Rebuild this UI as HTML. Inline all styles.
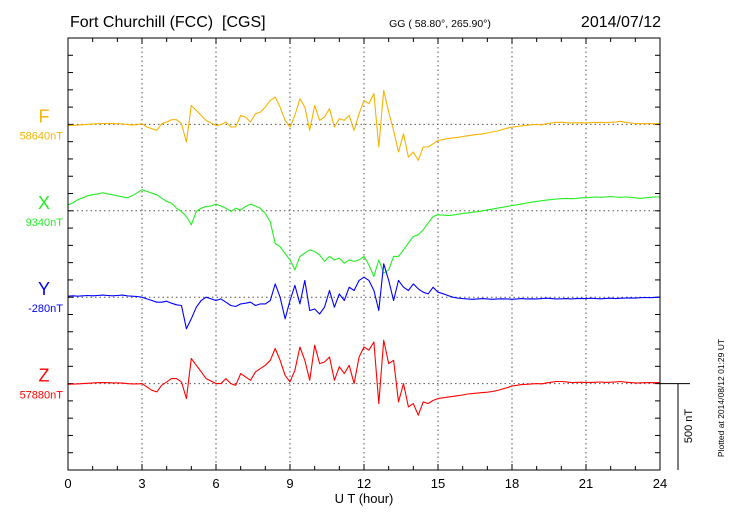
<!DOCTYPE html>
<html><head><meta charset="utf-8"><style>
body{margin:0;background:#fff;width:730px;height:520px;overflow:hidden}
svg{display:block;font-family:"Liberation Sans",Arial,sans-serif}
</style></head><body>
<svg id="c" width="730" height="520"></svg>
<script>
const hours=[0,3,6,9,12,15,18,21,24];
const components=["F","X","Y","Z"];
const baseLabels=["58640nT","9340nT","-280nT","57880nT"];
const colors=["#f5b400","#22ee22","#0000ff","#ff0000"];
const step=0.2;
const fVals=[-6,-5,-4,-2,0,2,4,5,6,5,4,3,0,-3,-2,
4,-15,-25,-35,4,14,27,27,4,-102,110,81,52,23,8,-6,-2,14,-15,-15,52,42,14,62,71,100,139,158,100,23,-15,52,149,100,-35,110,23,42,91,-15,33,23,52,-35,62,139,120,178,-131,197,71,-35,-160,-54,-189,-160,-208,-131,-131,-112,-93,
-88,-82,-78,-75,-70,-66,-62,-58,-55,-50,-44,-38,-30,-22,-16,-12,-8,-5,-2,0,-3,4,8,12,12,10,8,9,10,9,10,11,12,10,12,14,18,12,8,5,4,4,5,4,6];
const xVals=[35,46,64,75,87,93,98,104,98,93,87,81,75,87,104,
122,112,102,93,73,54,44,15,-4,-33,-81,-4,15,25,27,39,27,15,-4,15,4,25,39,27,15,-15,-64,-189,-208,-247,-284,-342,-264,-245,-226,-235,-255,-293,-264,-284,-274,-303,-284,-293,-284,-264,-313,-380,-284,-361,-342,-264,-264,-226,-187,-149,-139,-110,-71,-33,-23,
-25,-28,-25,-20,-15,-12,-8,-5,0,5,10,15,20,25,30,35,40,45,50,55,58,62,65,68,70,72,70,72,75,75,78,80,78,80,82,80,78,80,78,75,72,75,78,80,80];
const yVals=[6,8,6,8,10,8,10,12,10,8,10,12,8,6,4,
0,-10,-19,-29,-29,-23,-35,-44,-48,-183,-125,-58,-19,0,-10,-19,-10,-29,-48,-54,-39,-35,-29,-48,-39,-39,-19,77,0,-125,-19,68,-39,97,-77,-68,-97,-58,39,-58,19,-19,58,39,97,116,97,39,-77,193,97,-19,97,58,39,77,48,29,19,58,29,
20,10,0,-5,-8,-10,-12,-10,-8,-10,-12,-10,-9,-10,-12,-10,-8,-10,-9,-10,-8,-6,-8,-10,-9,-8,-10,-8,-7,-8,-6,-8,-9,-7,-6,-8,-6,-5,-4,-5,-3,-2,-3,-1,0];
const zVals=[-4,-3,-2,0,2,4,5,6,5,4,4,3,0,-2,-2,
0,-19,-39,-48,-10,10,29,29,10,-87,145,106,68,29,15,0,0,29,0,-10,58,39,19,68,87,106,135,203,135,48,10,77,212,135,19,222,116,125,154,19,97,58,106,0,154,212,193,241,-116,251,116,135,-106,0,-135,-116,-183,-106,-116,-97,-87,
-82,-78,-74,-70,-66,-60,-58,-55,-52,-50,-46,-40,-32,-24,-14,-10,-6,-4,-2,0,-2,4,8,12,12,10,6,7,8,6,7,8,9,7,8,10,12,8,6,4,4,5,6,5,6];
const series=[fVals,xVals,yVals,zVals];
const L=68,R=660,T=38,B=470,tick=(B-T)/25,nTpx=tick/100;
const X=h=>L+(R-L)*h/24;
const base=i=>T+tick*(5+5*i);
const Yv=(i,v)=>base(i)-v*nTpx;
const svg=document.getElementById('c');
function mk(t,a,txt){const e=document.createElementNS('http://www.w3.org/2000/svg',t);for(const k in a)e.setAttribute(k,a[k]);if(txt!==undefined)e.textContent=txt;svg.appendChild(e);return e;}
let e;
for(let i=1;i<hours.length-1;i++){e=mk('line',{x1:X(hours[i]),x2:X(hours[i]),y1:T,y2:B,stroke:'#555','stroke-dasharray':'1.5,3','stroke-width':1});

}
for(let i=0;i<4;i++){e=mk('line',{x1:L,x2:R,y1:base(i),y2:base(i),stroke:'#555','stroke-dasharray':'1.5,3','stroke-width':1});

}
for(let k=1;k<25;k++){const y=T+k*tick;
e=mk('line',{x1:L,x2:L+5,y1:y,y2:y,stroke:'#000'});
e=mk('line',{x1:R-5,x2:R,y1:y,y2:y,stroke:'#000'});}
for(let h=1;h<24;h++){const x=X(h),len=h%3?4:6;
e=mk('line',{x1:x,x2:x,y1:T,y2:T+len,stroke:'#000'});
e=mk('line',{x1:x,x2:x,y1:B-len,y2:B,stroke:'#000'});}
for(let i=0;i<4;i++){const pts=series[i].map((v,j)=>X(j*step).toFixed(1)+','+Yv(i,v).toFixed(1)).join(' ');
e=mk('polyline',{points:pts,fill:'none',stroke:colors[i],'stroke-width':1.1,'stroke-linejoin':'round'});


e=mk('text',{x:44,y:base(i)-2,'text-anchor':'middle','font-size':18,fill:colors[i]},components[i]);


e=mk('text',{x:63,y:base(i)+15,'text-anchor':'end','font-size':11,fill:colors[i]},baseLabels[i]);

}
e=mk('rect',{x:L,y:T,width:R-L,height:B-T,fill:'none',stroke:'#000','stroke-width':1});

for(const h of hours){e=mk('text',{x:X(h),y:488,'text-anchor':'middle','font-size':13},String(h));
}
e=mk('text',{x:364,y:503,'text-anchor':'middle','font-size':13},'U T (hour)');

e=mk('line',{x1:R,x2:690,y1:base(3),y2:base(3),stroke:'#000'});
e=mk('line',{x1:678,x2:678,y1:base(3),y2:B,stroke:'#000'});
e=mk('text',{x:0,y:0,'font-size':11,'text-anchor':'middle',transform:'translate(692,426) rotate(-90)'},'500 nT');

e=mk('text',{x:0,y:0,'font-size':8.5,'text-anchor':'middle',transform:'translate(724,398) rotate(-90)'},'Plotted at 2014/08/12 01:29 UT');

e=mk('text',{x:70,y:27,'font-size':16,style:'white-space:pre'},'Fort Churchill (FCC)  [CGS]');

e=mk('text',{x:440,y:27,'text-anchor':'middle','font-size':10.5},'GG ( 58.80°, 265.90°)');

e=mk('text',{x:661,y:27,'text-anchor':'end','font-size':16},'2014/07/12');

</script>
</body></html>
